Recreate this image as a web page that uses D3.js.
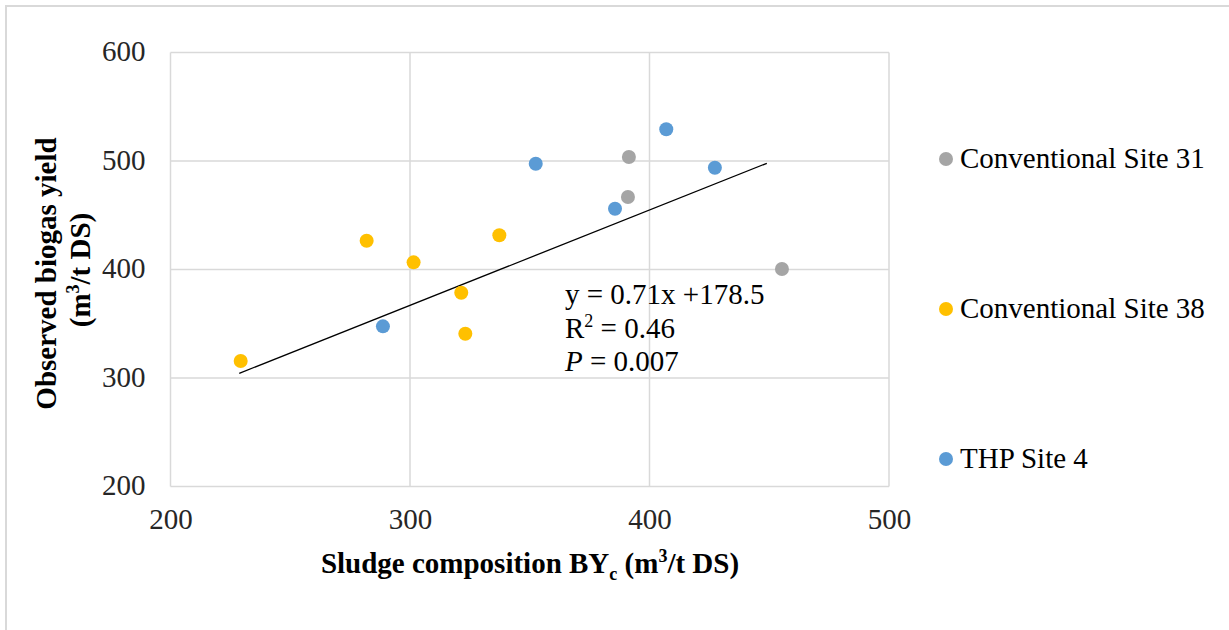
<!DOCTYPE html>
<html lang="en">
<head>
    <meta charset="UTF-8">
    <title>Observed biogas yield vs sludge composition</title>
    <script src="https://d3js.org/d3.v7.min.js"></script>
    <style>
        body {
            margin: 0;
            background: #fff;
        }
        svg { display: block; }
        svg text {
            font-family: "Liberation Serif", "Times New Roman", Times, "DejaVu Serif", serif;
        }
    </style>
</head>
<body>
    <div id="chart"></div>
    <script>
        // series: [x = BYc, y = observed yield]
        const seriesNames = ["Conventional Site 31", "Conventional Site 38", "THP Site 4"];
        const seriesColors = ["#A5A5A5", "#FFC000", "#5B9BD5"];

        const site31X = [391.4, 391.0, 455.3];
        const site31Y = [503.7, 466.8, 400.5];

        const site38X = [229.3, 281.9, 301.5, 321.4, 323.1, 337.3];
        const site38Y = [315.7, 426.5, 406.6, 378.6, 340.8, 431.5];

        const thp4X = [288.7, 352.5, 385.6, 407.0, 427.3];
        const thp4Y = [347.6, 497.5, 456.0, 529.2, 493.8];

        // trendline as drawn in the picture
        const trendX = [228.7, 449.0];
        const trendY = [304.3, 497.9];

        const xTicks = [200, 300, 400, 500];
        const yTicks = [200, 300, 400, 500, 600];

        const width = 1229, height = 630;
        const plot = { left: 170.5, right: 889, top: 52.5, bottom: 486.5 };
        const fs = 29;

        const svg = d3.select("#chart").append("svg")
            .attr("width", width)
            .attr("height", height);

        // outer frame
        svg.append("rect")
            .attr("x", 6).attr("y", 6)
            .attr("width", width + 10).attr("height", height + 10)
            .attr("fill", "none")
            .attr("stroke", "#d9d9d9")
            .attr("stroke-width", 2);

        const x = d3.scaleLinear().domain([200, 500]).range([plot.left, plot.right]);
        const y = d3.scaleLinear().domain([200, 600]).range([plot.bottom, plot.top]);

        // grid
        const grid = svg.append("g").attr("stroke", "#d9d9d9").attr("stroke-width", 1.5);
        grid.selectAll("line.h").data(yTicks).enter().append("line")
            .attr("x1", plot.left).attr("x2", plot.right)
            .attr("y1", d => y(d)).attr("y2", d => y(d));
        grid.selectAll("line.v").data(xTicks).enter().append("line")
            .attr("y1", plot.top).attr("y2", plot.bottom)
            .attr("x1", d => x(d)).attr("x2", d => x(d));

        // axes (labels only)
        const xAxis = svg.append("g")
            .attr("transform", `translate(0,${plot.bottom})`)
            .call(d3.axisBottom(x).tickValues(xTicks).tickSize(0).tickPadding(22));
        const yAxis = svg.append("g")
            .attr("transform", `translate(${plot.left},0)`)
            .call(d3.axisLeft(y).tickValues(yTicks).tickSize(0).tickPadding(25));
        [xAxis, yAxis].forEach(a => {
            a.attr("font-family", null).attr("font-size", null);
            a.select(".domain").remove();
            a.selectAll("text")
                .attr("font-size", fs)
                .attr("fill", "#262626");
        });
        yAxis.selectAll("text").attr("dy", "0.29em");

        // trendline
        svg.append("line")
            .attr("x1", x(trendX[0])).attr("y1", y(trendY[0]))
            .attr("x2", x(trendX[1])).attr("y2", y(trendY[1]))
            .attr("stroke", "#000")
            .attr("stroke-width", 1.3);

        // points
        const series = [
            { xs: site31X, ys: site31Y },
            { xs: site38X, ys: site38Y },
            { xs: thp4X, ys: thp4Y }
        ];
        series.forEach((s, i) => {
            svg.append("g").selectAll("circle")
                .data(s.xs.map((v, j) => [v, s.ys[j]]))
                .enter().append("circle")
                .attr("cx", d => x(d[0]))
                .attr("cy", d => y(d[1]))
                .attr("r", 7)
                .attr("fill", seriesColors[i]);
        });

        // equation box
        const eq = svg.append("g")
            .attr("font-size", fs)
            .attr("fill", "#000");
        eq.append("text").attr("x", 565).attr("y", 304).text("y = 0.71x +178.5");
        const r2 = eq.append("text").attr("x", 565).attr("y", 338);
        r2.append("tspan").text("R");
        r2.append("tspan").attr("dy", -11).attr("font-size", 18).text("2");
        r2.append("tspan").attr("dy", 11).text(" = 0.46");
        const p = eq.append("text").attr("x", 565).attr("y", 371);
        p.append("tspan").attr("font-style", "italic").text("P");
        p.append("tspan").text(" = 0.007");

        // legend
        const legend = svg.append("g").attr("font-size", fs);
        seriesNames.forEach((name, i) => {
            const ly = 159 + i * 150;
            legend.append("circle").attr("cx", 946).attr("cy", ly).attr("r", 7).attr("fill", seriesColors[i]);
            legend.append("text").attr("x", 960).attr("y", ly + 8.5).attr("fill", "#000").text(name);
        });

        // axis titles
        const xt = svg.append("text")
            .attr("x", 530).attr("y", 573)
            .attr("text-anchor", "middle")
            .attr("font-weight", "bold")
            .attr("font-size", fs);
        xt.append("tspan").text("Sludge composition BY");
        xt.append("tspan").attr("dy", 7).attr("font-size", 18).text("c");
        xt.append("tspan").attr("dy", -7).text(" (m");
        xt.append("tspan").attr("dy", -11).attr("font-size", 18).text("3");
        xt.append("tspan").attr("dy", 11).text("/t DS)");

        const yt = svg.append("g")
            .attr("font-weight", "bold")
            .attr("font-size", fs)
            .attr("text-anchor", "middle");
        yt.append("text")
            .attr("transform", "translate(56,273.5) rotate(-90)")
            .text("Observed biogas yield");
        const yt2 = yt.append("text")
            .attr("transform", "translate(90,270) rotate(-90)");
        yt2.append("tspan").text("(m");
        yt2.append("tspan").attr("dy", -11).attr("font-size", 18).text("3");
        yt2.append("tspan").attr("dy", 11).text("/t DS)");
    </script>
</body>
</html>
